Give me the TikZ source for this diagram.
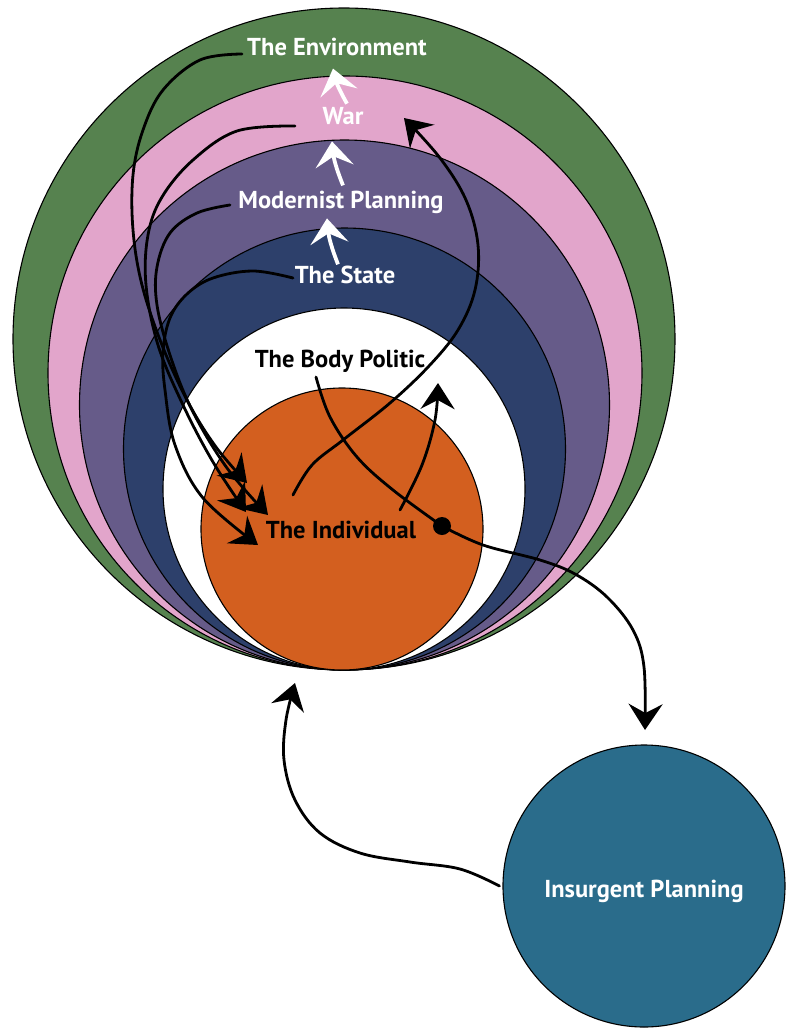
\documentclass[tikz,border=0pt]{standalone}
\usepackage{fontspec}
\setmainfont{PT Sans}
\usetikzlibrary{arrows.meta}
\definecolor{cgreen}{HTML}{56824F}
\definecolor{cpink}{HTML}{E2A5CB}
\definecolor{cpurple}{HTML}{665B89}
\definecolor{cnavy}{HTML}{2D406B}
\definecolor{corange}{HTML}{D35F1F}
\definecolor{cteal}{HTML}{2A6C8B}
\begin{document}
\begin{tikzpicture}[x=1pt,y=-1pt,
  ring/.style={circle, draw=black, line width=1.1pt, inner sep=0pt},
  lab/.style={font=\bfseries\fontsize{24.5}{28}\selectfont, inner sep=0pt, anchor=base},
  wlab/.style={lab, text=white},
  conn/.style={draw=black, line width=2.8pt, line cap=round, -{Stealth[length=26pt,width=34pt,inset=9pt]}},
  plainconn/.style={draw=black, line width=2.8pt, line cap=round},
  wconn/.style={draw=white, line width=3.8pt, -{Stealth[length=25pt,width=38pt,inset=10pt]}}
]
\useasboundingbox (0,0) rectangle (792,1029);
% nested circles
\node[ring, fill=cgreen, minimum size=662pt] (cenv) at (344,339) {};
\node[ring, fill=cpink, minimum size=594pt] (cwar) at (345,373) {};
\node[ring, fill=cpurple, minimum size=530pt] (cmod) at (344.5,405) {};
\node[ring, fill=cnavy, minimum size=442pt] (cstate) at (344.5,449) {};
\node[ring, fill=white, minimum size=362pt] (cbody) at (344,489) {};
\node[ring, fill=corange, minimum size=282pt] (cind) at (342,529) {};
\node[ring, fill=cteal, minimum size=282pt] (cins) at (644,886) {};
% labels
\node[wlab] (env) at (337,55) {The Environment};
\node[wlab] (war) at (343,124) {War};
\node[wlab] (mod) at (341,208) {Modernist Planning};
\node[wlab] (state) at (345,283) {The State};
\node[lab] (body) at (340,367) {The Body Politic};
\node[lab] (ind) at (341,538) {The Individual};
\node[wlab] (ins) at (644,897) {Insurgent Planning};
\node[circle, fill=black, inner sep=0pt, minimum size=18pt] (dot) at (442,526) {};
% white arrows
\draw[wconn] ([xshift=4pt,yshift=3pt]war.north) to[bend left=8] ([xshift=-4pt,yshift=-13pt]env.south);
\draw[wconn] ([xshift=2pt,yshift=5pt]mod.north) to[bend left=8] ([xshift=-11pt,yshift=-17pt]war.south);
\draw[wconn] ([xshift=-7pt,yshift=1pt]state.north) to[bend left=8] ([xshift=-14pt,yshift=-5pt]mod.south);
% start and end points
\coordinate (senv) at (242,54);
\coordinate (swar) at (295,126);
\coordinate (smod) at (230,205);
\coordinate (sstate) at (293,278);
\coordinate (tipA) at (247,483);
\coordinate (tipB) at (246,512);
\coordinate (tipC) at (268,515);
\coordinate (tipD) at (258,545);
\coordinate (sindA) at (293,495);
\coordinate (sindB) at (400,510);
\coordinate (tipW) at (404,118);
\coordinate (tipBody) at (438,383);
\coordinate (sbody) at (316,377);
\coordinate (tipIns) at (645,730);
\coordinate (sins) at ([xshift=-3pt]cins.west);
\coordinate (tipInd) at (295,683);
% black connectors
\draw[conn] plot[smooth, tension=0.6] coordinates {(senv) (200,60) (163,90) (143,130) (133,175) (133,230) (142,285) (162,345) (188,402) (216,447) (tipA)};
\draw[conn] plot[smooth, tension=0.6] coordinates {(swar) (237,131) (193,160) (162,197) (148,235) (146,285) (158,345) (183,405) (213,462) (tipB)};
\draw[conn] plot[smooth, tension=0.6] coordinates {(smod) (197,213) (170,233) (157,267) (157,305) (170,355) (192,410) (227,468) (tipC)};
\draw[conn] plot[smooth, tension=0.6] coordinates {(sstate) (253,271) (213,278) (187,294) (170,318) (163,352) (165,390) (175,445) (203,498) (tipD)};
\draw[conn] plot[smooth, tension=0.6] coordinates {(sindA) (312,465) (343,440) (390,403) (429,366) (458,330) (475,290) (478,245) (466,200) (440,158) (tipW)};
\draw[plainconn] plot[smooth, tension=0.6] coordinates {(sbody) (330,417) (357,457) (393,490) (dot)};
\draw[conn] plot[smooth, tension=0.6] coordinates {(dot) (483,545) (540,560) (575,574) (607,597) (633,630) (644,667) (tipIns)};
\draw[conn] plot[smooth, tension=0.6] coordinates {(sindB) (422,465) (435,420) (tipBody)};
\draw[conn] plot[smooth, tension=0.6] coordinates {(sins) (460,869) (410,862) (360,853) (320,833) (295,800) (284,760) (286,720) (tipInd)};
\end{tikzpicture}
\end{document}
